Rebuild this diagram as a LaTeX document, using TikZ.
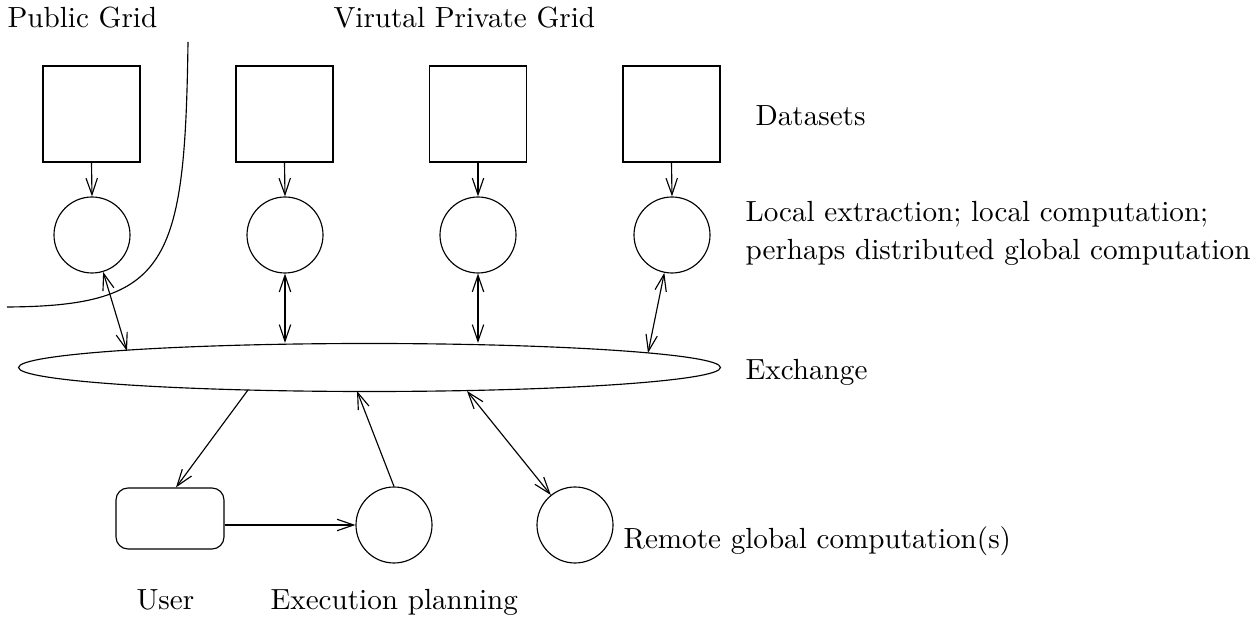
\documentclass[tikz,border=0pt]{standalone}
\usetikzlibrary{arrows.meta,shapes.geometric,calc}
\begin{document}
\begin{tikzpicture}[x=0.35pt,y=-0.35pt,
  line width=0.4pt,
  font=\fontsize{10.2}{12}\selectfont,
  tip/.style={-{Straight Barb[length=5.8pt,width=4pt]}},
  bitip/.style={{Straight Barb[length=5.8pt,width=4pt]}-{Straight Barb[length=5.8pt,width=4pt]}},
  databox/.style={draw,rectangle,minimum width={97*0.35pt},minimum height={96*0.35pt},inner sep=0pt},
  proc/.style={draw,circle,minimum size={76*0.35pt},inner sep=0pt},
  label/.style={inner sep=0pt,anchor=base west}]
\useasboundingbox (0,0) rectangle (1260,620);

% datasets
\node[databox] (b1) at (91.5,114) {};
\node[databox] (b2) at (284.5,114) {};
\node[databox] (b3) at (478,114) {};
\node[databox] (b4) at (671.5,114) {};

% local computations
\node[proc] (c1) at (92,235) {};
\node[proc] (c2) at (285,235) {};
\node[proc] (c3) at (478,235) {};
\node[proc] (c4) at (672,235) {};

% exchange
\node[draw,ellipse,minimum width={702*0.35pt},minimum height={48*0.35pt},inner sep=0pt] (ex) at (369.5,367.5) {};

% bottom nodes
\node[draw,rectangle,rounded corners=4.2pt,minimum width={108*0.35pt},minimum height={61*0.35pt},inner sep=0pt] (user) at (170,518.5) {};
\node[proc] (exec) at (394,525) {};
\node[proc] (remote) at (575,525) {};

% contact points on the exchange ellipse
\coordinate (e1) at (127,351);
\coordinate (e4) at (648,353);
\coordinate (eu) at (248,390);
\coordinate (ep) at (357,391);
\coordinate (er) at (467,391);

% public grid boundary
\draw (188,42) .. controls (185,265) and (168,306) .. (7,307);

% connectors
\foreach \i in {1,2,3,4} \draw[tip] (b\i.south) -- (c\i.north);
\draw[bitip] (c1) -- (e1);
\draw[bitip] (c2.south) -- (c2.south |- ex.north);
\draw[bitip] (c3.south) -- (c3.south |- ex.north);
\draw[bitip] (c4) -- (e4);
\draw[tip] (eu) -- ($(user.north)+(6,0)$);
\draw[tip] (user.east |- exec.west) -- (exec.west);
\draw[tip] (exec.north) -- (ep);
\draw[bitip] (er) -- (remote);

% labels
\node[label] (tpub) at (7,28) {Public Grid};
\node[label] (tvpg) at (333,28) {Virutal Private Grid};
\node[label] (tdat) at (755,126) {Datasets};
\node[label] (tloc1) at (745,222) {Local extraction; local computation;};
\node[label] (tloc2) at (745,260) {perhaps distributed global computation};
\node[label] (texc) at (745,380) {Exchange};
\node[label] (trem) at (623,549) {Remote global computation(s)};
\node[label] (tusr) at (136,610) {User};
\node[label] (texe) at (270,610) {Execution planning};
\end{tikzpicture}
\end{document}
